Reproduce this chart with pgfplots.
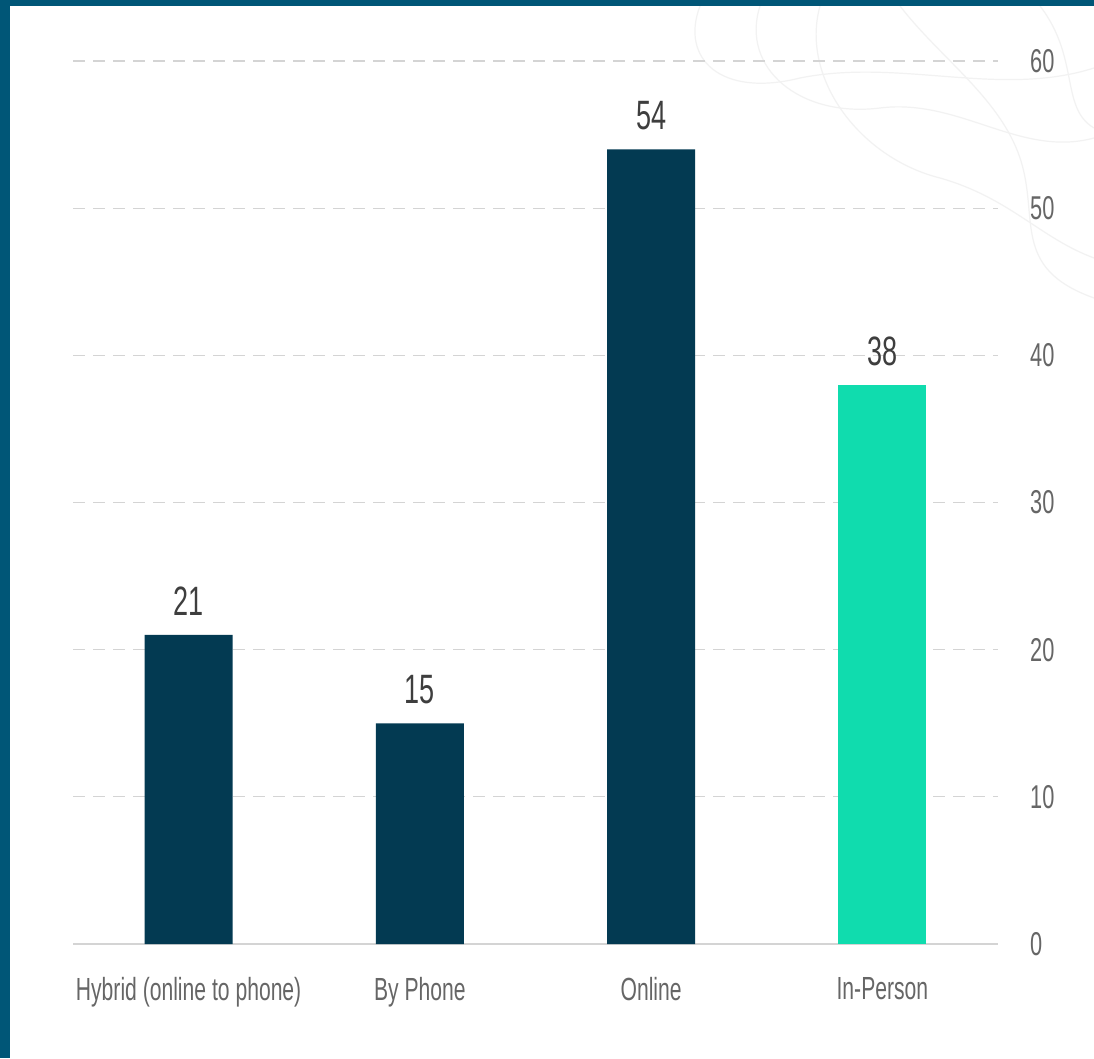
\documentclass[border=0pt]{standalone}
\usepackage{pgfplots}
\pgfplotsset{compat=1.18}
\usepackage{fontspec}
\setmainfont{Liberation Sans}[FakeStretch=0.66]
\definecolor{frame}{HTML}{005677}
\definecolor{darkbar}{HTML}{033A52}
\definecolor{greenbar}{HTML}{10DCAE}
\definecolor{lbl}{HTML}{666666}
\definecolor{val}{HTML}{3E3E3E}
\definecolor{gridc}{HTML}{D4D4D4}
\begin{document}
\begin{tikzpicture}
\fill[white] (0pt,0pt) rectangle (1094pt,1058pt);
% faint decorative contour lines
\begin{scope}[draw=gray!10, line width=1.2pt, x=1pt, y=1pt]
\draw (700,1052) .. controls (680,1000) and (720,960) .. (800,980) .. controls (900,1000) and (1000,960) .. (1094,990);
\draw (760,1052) .. controls (740,990) and (800,940) .. (880,950) .. controls (960,960) and (1020,900) .. (1094,920);
\draw (820,1052) .. controls (800,980) and (860,900) .. (940,880) .. controls (1010,860) and (1040,820) .. (1094,800);
\draw (900,1052) .. controls (940,1000) and (1000,960) .. (1020,900) .. controls (1040,840) and (1010,790) .. (1094,760);
\draw (1040,1052) .. controls (1080,1000) and (1060,950) .. (1094,930);
\end{scope}
\fill[frame] (0pt,0pt) rectangle (10pt,1058pt);
\fill[frame] (0pt,1052pt) rectangle (1094pt,1058pt);
\begin{axis}[
  at={(73pt,114pt)}, anchor=south west,
  scale only axis, width=925pt, height=883pt,
  xmin=-0.5, xmax=3.5, ymin=0, ymax=60,
  axis line style={draw=none},
  ytick={0,10,20,30,40,50,60},
  xtick={0,1,2,3},
  xticklabels={Hybrid (online to phone),By Phone,Online,In-Person},
  major tick length=0pt,
  yticklabel pos=right,
  /pgf/number format/assume math mode=true,
  yticklabel style={anchor=west, inner sep=0pt, xshift=32pt, font=\fontsize{33}{34}\selectfont, text=lbl},
  xticklabel style={anchor=north, inner sep=0pt, yshift=-33pt, font=\fontsize{32}{34}\selectfont, text=lbl},
  ymajorgrids, grid style={draw=gridc, line width=1.3pt, dash pattern=on 12pt off 8pt},
  extra y ticks={0}, extra y tick labels={},
  extra y tick style={grid style={draw=gridc, line width=2pt, solid}},
  ybar, bar width=88pt, bar shift=0pt,
  nodes near coords,
  nodes near coords style={anchor=south, inner sep=0pt, yshift=19pt, font=\fontsize{41}{42}\selectfont, text=val},
  clip=false,
]
\addplot[fill=darkbar, draw=none] coordinates {(0,21) (1,15) (2,54)};
\addplot[fill=greenbar, draw=none] coordinates {(3,38)};
\end{axis}
\pgfresetboundingbox
\path (0pt,0pt) rectangle (1094pt,1058pt);
\end{tikzpicture}
\end{document}
